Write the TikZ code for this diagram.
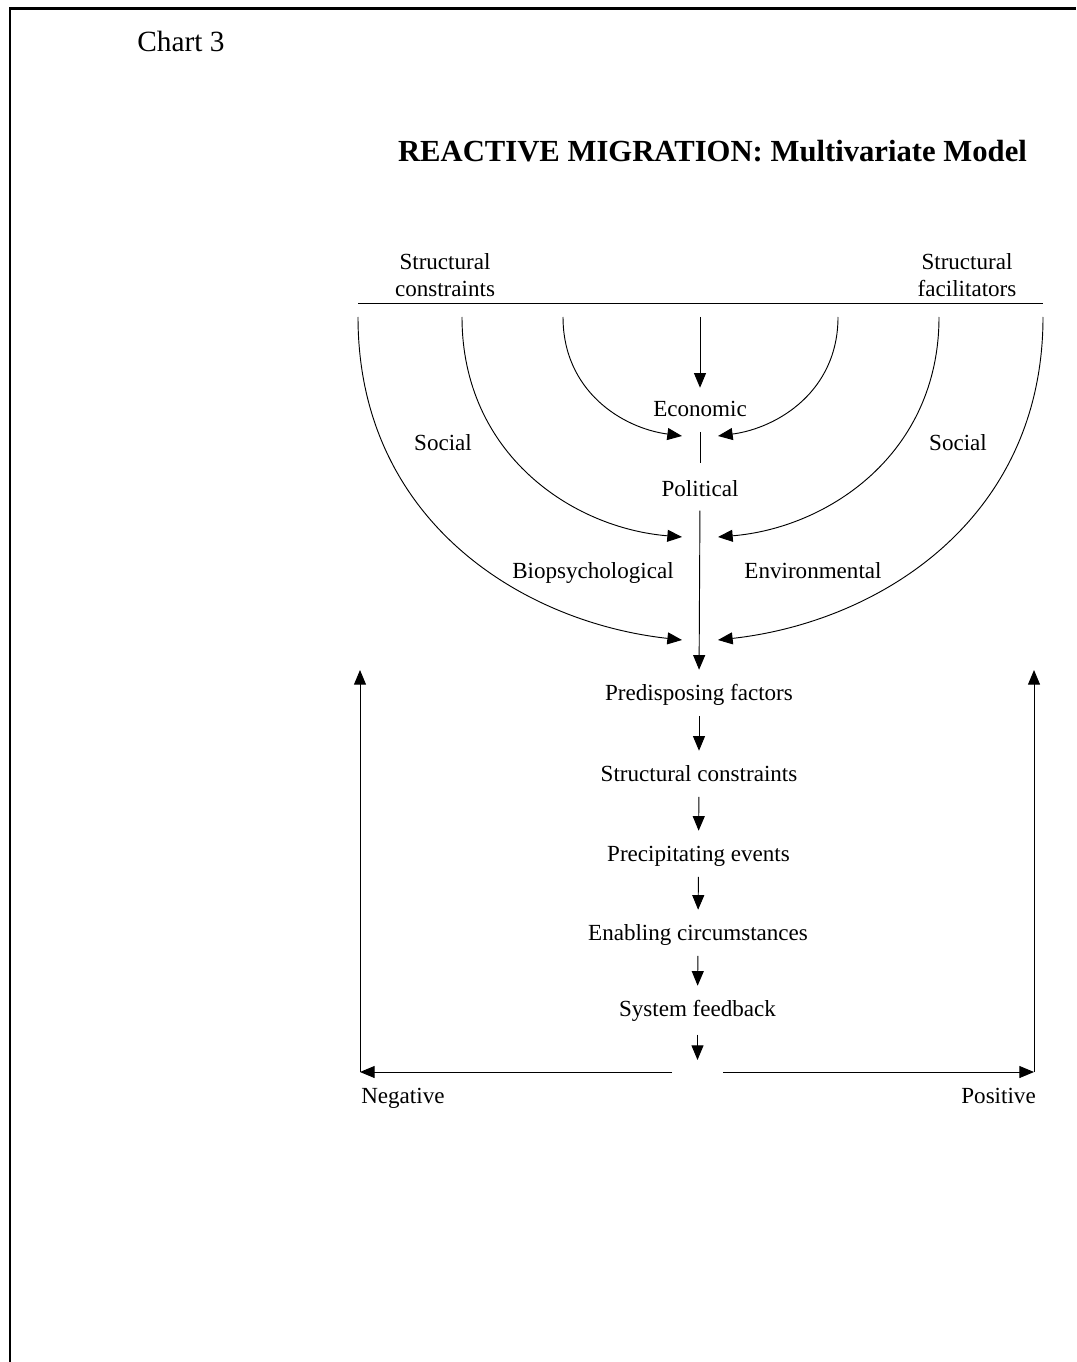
\documentclass[tikz,border=0pt]{standalone}
\usepackage{fontspec}
\setmainfont{Liberation Serif}
\usetikzlibrary{arrows.meta}
\begin{document}
\begin{tikzpicture}[x=0.75pt,y=-0.75pt]
\tikzset{
  lbl/.style={inner sep=0pt, font=\fontsize{17.3}{20}\selectfont, text height=12pt, text depth=3.75pt, anchor=base},
  arr/.style={-{Triangle[length=11pt,width=9pt]}, line width=0.7pt},
  plainline/.style={line width=0.7pt},
  vflow/.style={arr, shorten <=8pt, shorten >=10.5pt},
}
\useasboundingbox (0,0) rectangle (1076,1362);
% frame
\draw[line width=2pt] (10,1362) -- (10,8.5) -- (1076,8.5);
% headings
\node[anchor=base west, inner sep=0pt, font=\fontsize{22}{26}\selectfont] (chart) at (137,52) {Chart 3};
\node[anchor=base, inner sep=0pt, font=\fontsize{23}{27}\selectfont\bfseries] (title) at (712.5,162) {REACTIVE MIGRATION: Multivariate Model};
% top labels
\node[lbl] (scA) at (445,270) {Structural};
\node[lbl] (scB) at (445,297) {constraints};
\node[lbl] (sfA) at (967,270) {Structural};
\node[lbl] (sfB) at (967,297) {facilitators};
% rule
\coordinate (ruleL) at (358,303);
\coordinate (ruleR) at (1043,303);
\draw[plainline] (ruleL) -- (ruleR);
% factor labels
\node[lbl] (econ) at (700,416) {Economic};
\node[lbl] (pol) at (700,496) {Political};
\node[lbl] (socL) at (443,450) {Social};
\node[lbl] (socR) at (958,450) {Social};
\node[lbl] (bio) at (593,578) {Biopsychological};
\node[lbl] (env) at (813,578) {Environmental};
% flow labels
\node[lbl] (pf) at (699,700) {Predisposing factors};
\node[lbl] (sc) at (699,781) {Structural constraints};
\node[lbl] (pe) at (698.5,861) {Precipitating events};
\node[lbl] (ec) at (698,940) {Enabling circumstances};
\node[lbl] (sfb) at (697.5,1016) {System feedback};
\node[lbl, anchor=base west] (neg) at (361,1103) {Negative};
\node[lbl, anchor=base east] (pos) at (1036,1103) {Positive};
% arc coordinates
\coordinate (aL1) at (563,317);  \coordinate (tL1) at (682,436);
\coordinate (aL2) at (462,317);  \coordinate (tL2) at (682,537);
\coordinate (aL3) at (358,317);  \coordinate (tL3) at (682,640);
\coordinate (aR1) at (838,317);  \coordinate (tR1) at (718,436);
\coordinate (aR2) at (939,317);  \coordinate (tR2) at (718,537);
\coordinate (aR3) at (1043,317); \coordinate (tR3) at (718,640);
\coordinate (cTop) at (700,317);
% arcs
\draw[arr] (aL1) .. controls (563,391) and (622,428) .. (tL1);
\draw[arr] (aL2) .. controls (462,454) and (572,528) .. (tL2);
\draw[arr] (aL3) .. controls (358,519) and (520,622) .. (tL3);
\draw[arr] (aR1) .. controls (838,391) and (778,428) .. (tR1);
\draw[arr] (aR2) .. controls (939,454) and (828,528) .. (tR2);
\draw[arr] (aR3) .. controls (1043,519) and (880,622) .. (tR3);
% central connectors
\draw[arr, shorten >=9pt] (cTop) -- (econ.north);
\draw[plainline, shorten <=8pt, shorten >=12.5pt] (econ.south) -- (pol.north);
\draw[arr, shorten <=7pt, shorten >=10.5pt] (pol.south) -- (pf.north);
\draw[vflow] (pf.south) -- (sc.north);
\draw[vflow] (sc.south) -- (pe.north);
\draw[vflow] (pe.south) -- (ec.north);
\draw[vflow] (ec.south) -- (sfb.north);
\coordinate (split) at (697.5,1060);
\draw[arr, shorten <=10pt] (sfb.south) -- (split);
% feedback loops
\coordinate (negStart) at (672,1072);
\coordinate (negCorner) at (360,1072);
\coordinate (negTop) at (360,670);
\coordinate (posStart) at (723,1072);
\coordinate (posCorner) at (1034,1072);
\coordinate (posTop) at (1034,670);
\draw[arr] (negStart) -- (negCorner);
\draw[arr] (negCorner) -- (negTop);
\draw[arr] (posStart) -- (posCorner);
\draw[arr] (posCorner) -- (posTop);
\end{tikzpicture}
\end{document}
